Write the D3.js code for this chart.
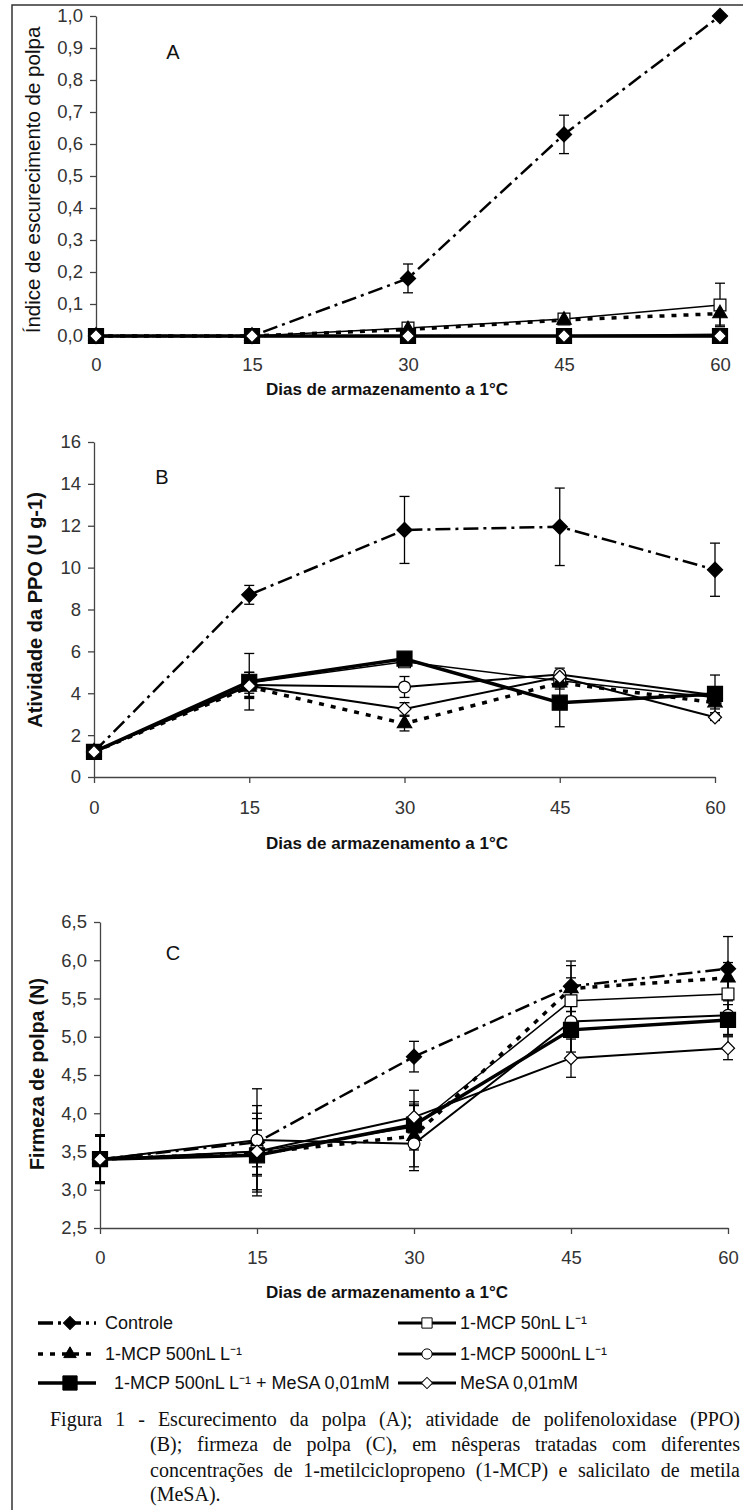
<!DOCTYPE html>
<html>
<head>
<meta charset="utf-8">
<script src="https://cdn.jsdelivr.net/npm/d3@7"></script>
<style>
  body { margin: 0; background: #fff; }
  svg { display: block; }
</style>
</head>
<body>
<div id="vis"></div>
<script>
'use strict';

// ---- data ----
var days = [0, 15, 30, 45, 60];
var seriesNames = ['Controle', '1-MCP 50nL L\u207B\u00B9', '1-MCP 500nL L\u207B\u00B9',
                   '1-MCP 5000nL L\u207B\u00B9', '1-MCP 500nL L\u207B\u00B9 + MeSA 0,01mM', 'MeSA 0,01mM'];

// A - indice de escurecimento (one row per series, same order as seriesNames)
var escMean = [
  [0, 0, 0.18, 0.63, 1.0],
  [0, 0, 0.025, 0.053, 0.097],
  [0, 0, 0.02, 0.05, 0.07],
  [0, 0, 0, 0, 0.005],
  [0, 0, 0, 0, 0],
  [0, 0, 0, 0, 0]
];
var escErr = [
  [0, 0, 0.045, 0.06, 0],
  [0, 0, 0.015, 0.005, 0.068],
  [0, 0, 0.01, 0.005, 0.036],
  [0, 0, 0, 0, 0.005],
  [0, 0, 0, 0, 0],
  [0, 0, 0, 0, 0.01]
];

// B - atividade da PPO
var ppoMean = [
  [1.2, 8.7, 11.8, 11.95, 9.9],
  [1.2, 4.5, 5.5, 4.6, 3.8],
  [1.2, 4.3, 2.55, 4.5, 3.55],
  [1.2, 4.4, 4.3, 4.9, 3.9],
  [1.2, 4.55, 5.65, 3.55, 3.97],
  [1.2, 4.35, 3.25, 4.78, 2.85]
];
var ppoErr = [
  [0, 0.45, 1.6, 1.85, 1.27],
  [0, 0.5, 0.2, 0.3, 0.3],
  [0, 0.55, 0.35, 0.3, 0.3],
  [0, 0.6, 0.5, 0.3, 0.3],
  [0, 1.35, 0.3, 1.15, 0.9],
  [0, 0.5, 0.3, 0.3, 0.15]
];

// C - firmeza de polpa
var firmMean = [
  [3.4, 3.62, 4.74, 5.66, 5.89],
  [3.4, 3.5, 3.82, 5.47, 5.56],
  [3.4, 3.48, 3.7, 5.63, 5.77],
  [3.4, 3.65, 3.6, 5.2, 5.28],
  [3.4, 3.45, 3.85, 5.09, 5.22],
  [3.4, 3.5, 3.95, 4.72, 4.85]
];
var firmErr = [
  [0.32, 0.7, 0.2, 0.33, 0.42],
  [0.3, 0.5, 0.3, 0.3, 0.3],
  [0.3, 0.3, 0.4, 0.3, 0.2],
  [0.3, 0.45, 0.35, 0.4, 0.25],
  [0.3, 0.48, 0.3, 0.35, 0.2],
  [0.3, 0.2, 0.35, 0.25, 0.15]
];

var yTicksA = [0, 0.1, 0.2, 0.3, 0.4, 0.5, 0.6, 0.7, 0.8, 0.9, 1.0];
var yTicksB = [0, 2, 4, 6, 8, 10, 12, 14, 16];
var yTicksC = [2.5, 3.0, 3.5, 4.0, 4.5, 5.0, 5.5, 6.0, 6.5];

var captionLines = [
  'Figura 1 - Escurecimento da polpa (A); atividade de polifenoloxidase (PPO)',
  '(B); firmeza de polpa (C), em nêsperas tratadas com diferentes',
  'concentrações de 1-metilciclopropeno (1-MCP) e salicilato de metila',
  '(MeSA).'
];

// ---- styles per series ----
var sDash   = ['15,5,3,5', null, '5,7', null, null, null];
var sWidth  = [2.5, 1.5, 3.5, 2, 3.5, 2];
var sMarker = ['diamond', 'square', 'triangle', 'circle', 'square', 'diamond'];
var sFill   = ['#000', '#fff', '#000', '#fff', '#000', '#fff'];
var sSize   = [115, 140, 90, 110, 225, 85];
var drawOrder = [0, 1, 2, 3, 4, 5];

var W = 743, H = 1510;
var svg = d3.select('#vis').append('svg')
  .attr('width', W).attr('height', H)
  .style('font-family', '"Liberation Sans", Arial, sans-serif');

// frame (left + top edge of the figure box)
svg.append('path')
  .attr('d', 'M12,' + H + 'V5H' + W)
  .attr('fill', 'none').attr('stroke', '#333').attr('stroke-width', 1.5);

var commaFmt = function(d) { return d3.format('.1f')(d).replace('.', ','); };

function markerPath(type, size) {
  if (type === 'diamond' || type === 'square') return d3.symbol(d3.symbolSquare, size)();
  if (type === 'triangle') return d3.symbol(d3.symbolTriangle, size)();
  return d3.symbol(d3.symbolCircle, size)();
}
function markerRot(type) { return type === 'diamond' ? ' rotate(45)' : ''; }

var panels = [
  { mean: escMean, err: escErr, dom: [0, 1], ticks: yTicksA, fmt: commaFmt,
    x0: 96, x1: 720, yTop: 16, yBot: 336, tickIn: 0, pad: 22,
    letter: 'A', lx: 173, ly: 52, title: '\u00CDndice de escurecimento de polpa',
    bold: false, tsize: 20.5, tx: 33, ty: 180, xty: 389 },
  { mean: ppoMean, err: ppoErr, dom: [0, 16], ticks: yTicksB, fmt: d3.format('d'),
    x0: 94, x1: 715, yTop: 442, yBot: 777, tickIn: 6, pad: 18,
    letter: 'B', lx: 162, ly: 477, title: 'Atividade da PPO (U g-1)',
    bold: true, tsize: 20, tx: 35, ty: 610, xty: 843 },
  { mean: firmMean, err: firmErr, dom: [2.5, 6.5], ticks: yTicksC, fmt: commaFmt,
    x0: 100, x1: 728, yTop: 922, yBot: 1228, tickIn: 6, pad: 17,
    letter: 'C', lx: 173, ly: 953, title: 'Firmeza de polpa (N)',
    bold: true, tsize: 19.5, tx: 37, ty: 1074, xty: 1292 }
];

panels.forEach(function(p) {
  var x = d3.scaleLinear().domain([0, 60]).range([p.x0, p.x1]);
  var y = d3.scaleLinear().domain(p.dom).range([p.yBot, p.yTop]);
  var g = svg.append('g');

  var gx = g.append('g').attr('transform', 'translate(0,' + p.yBot + ')')
    .call(d3.axisBottom(x).tickValues(days).tickSizeInner(p.tickIn).tickSizeOuter(0).tickPadding(p.pad));
  var gy = g.append('g').attr('transform', 'translate(' + p.x0 + ',0)')
    .call(d3.axisLeft(y).tickValues(p.ticks).tickFormat(p.fmt).tickSizeInner(6).tickSizeOuter(0).tickPadding(7));
  [gx, gy].forEach(function(a) {
    a.attr('font-family', null).attr('font-size', null);
    a.selectAll('path, line').attr('stroke', '#444').attr('stroke-width', 1.3);
    a.selectAll('text').attr('fill', '#333').style('font-size', '18.5px');
  });

  // panel letter
  g.append('text').attr('x', p.lx).attr('y', p.ly).attr('dy', '0.35em')
    .attr('text-anchor', 'middle').style('font-size', '20px').attr('fill', '#111').text(p.letter);

  // axis titles
  g.append('text').attr('x', 387).attr('y', p.xty).attr('dy', '0.35em')
    .attr('text-anchor', 'middle').style('font-size', '17px').style('font-weight', 'bold')
    .attr('fill', '#111').text('Dias de armazenamento a 1\u00B0C');
  g.append('text').attr('transform', 'translate(' + p.tx + ',' + p.ty + ') rotate(-90)')
    .attr('dy', '0.35em').attr('text-anchor', 'middle')
    .style('font-size', p.tsize + 'px').style('font-weight', p.bold ? 'bold' : 'normal')
    .attr('fill', '#111').text(p.title);

  var line = d3.line().x(function(d, i) { return x(days[i]); }).y(function(d) { return y(d); });

  // lines
  drawOrder.forEach(function(s) {
    g.append('path').attr('d', line(p.mean[s]))
      .attr('fill', 'none').attr('stroke', '#000')
      .attr('stroke-width', sWidth[s])
      .attr('stroke-dasharray', sDash[s]);
  });

  // error bars
  drawOrder.forEach(function(s) {
    var eg = g.append('g').attr('stroke', '#000').attr('stroke-width', 1.3);
    p.mean[s].forEach(function(v, i) {
      var e = p.err[s][i];
      if (!e) return;
      var cx = x(days[i]), t = y(v + e), b = y(v - e);
      eg.append('line').attr('x1', cx).attr('x2', cx).attr('y1', t).attr('y2', b);
      eg.append('line').attr('x1', cx - 5).attr('x2', cx + 5).attr('y1', t).attr('y2', t);
      eg.append('line').attr('x1', cx - 5).attr('x2', cx + 5).attr('y1', b).attr('y2', b);
    });
  });

  // markers
  drawOrder.forEach(function(s) {
    g.append('g').selectAll('path').data(p.mean[s]).enter().append('path')
      .attr('d', markerPath(sMarker[s], sSize[s]))
      .attr('transform', function(d, i) {
        return 'translate(' + x(days[i]) + ',' + y(d) + ')' + markerRot(sMarker[s]);
      })
      .attr('fill', sFill[s]).attr('stroke', '#000').attr('stroke-width', 1.2);
  });
});

// ---- legend ----
var legendCol = [0, 1, 0, 1, 0, 1];
var legendRow = [0, 0, 1, 1, 2, 2];
var legendRowY = [1323, 1354, 1383];
var legendColX = [38, 398];
var lg = svg.append('g');
seriesNames.forEach(function(name, s) {
  var lx = legendColX[legendCol[s]], ly = legendRowY[legendRow[s]];
  var len = legendCol[s] === 0 ? 58 : 58;
  lg.append('line').attr('x1', lx).attr('x2', lx + len).attr('y1', ly).attr('y2', ly)
    .attr('stroke', '#000').attr('stroke-width', legendCol[s] === 0 ? 3.5 : 3.2)
    .attr('stroke-dasharray', sDash[s]);
  var mx = lx + (legendCol[s] === 0 ? 32 : 29);
  lg.append('path').attr('d', markerPath(sMarker[s], sSize[s] * (s === 4 ? 0.9 : 0.75)))
    .attr('transform', 'translate(' + mx + ',' + ly + ')' + markerRot(sMarker[s]))
    .attr('fill', sFill[s]).attr('stroke', '#000').attr('stroke-width', 1);
  var tx = lx + len + (legendCol[s] === 0 ? (s === 4 ? 18 : 9) : 4);
  lg.append('text').attr('x', tx).attr('y', ly).attr('dy', '0.35em')
    .style('font-size', '18px').attr('fill', '#111').text(name);
});

// ---- caption (justified, serif) ----
var capY = [1426, 1451, 1477, 1501];
var capX0 = [50, 150, 150, 150];
var capX1 = 740;
var cg = svg.append('g').style('font-family', '"Liberation Serif", "Times New Roman", serif')
  .style('font-size', '20px').attr('fill', '#111');
captionLines.forEach(function(txt, li) {
  var words = txt.split(' ');
  var nodes = words.map(function(w) {
    return cg.append('text').attr('y', capY[li]).text(w);
  });
  var widths = nodes.map(function(n) { return n.node().getComputedTextLength(); });
  var total = d3.sum(widths);
  var justify = li < captionLines.length - 1;
  var gap = justify && words.length > 1 ? (capX1 - capX0[li] - total) / (words.length - 1) : 5;
  var cx = capX0[li];
  nodes.forEach(function(n, i) { n.attr('x', cx); cx += widths[i] + gap; });
});
</script>
</body>
</html>
